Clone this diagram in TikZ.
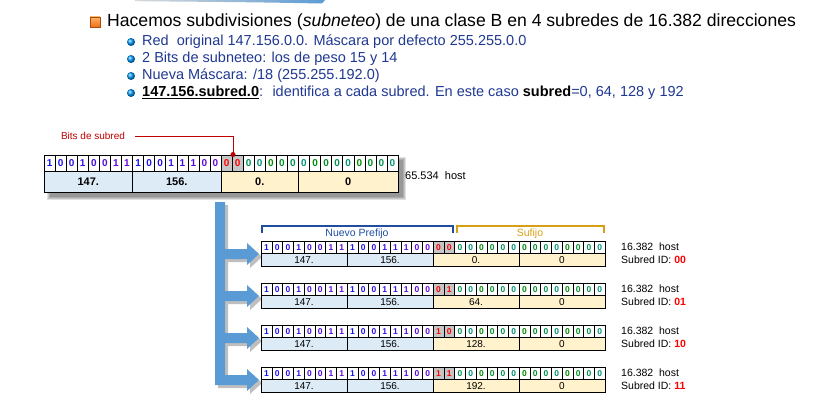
\documentclass[tikz,border=0pt]{standalone}
\usepackage{fontspec}
\setmainfont{Liberation Sans}
\definecolor{bitblue}{RGB}{20,20,240}
\definecolor{bitviolet}{RGB}{140,0,210}
\definecolor{bitgreen}{RGB}{0,140,0}
\definecolor{bitteal}{RGB}{0,150,160}
\definecolor{pfxfill}{RGB}{221,235,247}
\definecolor{sfxfill}{RGB}{255,242,204}
\definecolor{subgrey}{RGB}{198,198,198}
\definecolor{arrowblue}{RGB}{91,155,213}
\definecolor{txtblue}{RGB}{31,56,145}
\definecolor{brblue}{RGB}{31,78,160}
\definecolor{brgold}{RGB}{214,160,20}
\definecolor{redline}{RGB}{192,0,0}
\definecolor{bulletorange}{RGB}{240,110,20}
\newcommand\regbits[7]{%
  \foreach \b [count=\i from 0] in #6 {%
    \pgfmathsetmacro\xa{#2+\i*#4}%
    \pgfmathsetmacro\xb{#2+(\i+1)*#4}%
    \ifnum\i<16 \pgfmathtruncatemacro\m{mod(\i,8)*10}\def\tc{bitviolet!\m!bitblue}\def\cf{white}%
    \else\ifnum\i<18 \def\tc{red}\def\cf{subgrey}%
    \else \pgfmathtruncatemacro\m{mod(\i,4)*25}\def\tc{bitteal!\m!bitgreen}\def\cf{white}\fi\fi
    \draw[fill=\cf, line width=0.5pt] (\xa,#3) rectangle (\xb,{#3+#5});
    \node[font=#7, text=\tc, inner sep=0pt] (#1-\i) at ({(\xa+\xb)/2},{#3+#5/2}) {\b};
  }%
}
\newcommand\regbytes[7]{%
  \foreach \s/\e/\f/\l in {#7} {%
    \draw[fill=\f, line width=0.6pt] ({#2+\s*#4},#3) rectangle ({#2+\e*#4},{#3+#5});
    \node[font=#6, inner sep=0pt] (#1-\s) at ({#2+(\s+\e)/2*#4},{#3+#5/2}) {\l};
  }%
}
% #1 top, #2 middle (top+12.5), #3 bit list, #4 byte label, #5 id, #6 name
\newcommand\subreg[6]{%
  \regbits{s#6}{261}{#1}{10.75}{12.5}{#3}{\bfseries\fontsize{8.5}{9}\selectfont}
  \regbytes{sb#6}{261}{#2}{10.75}{12.5}{\fontsize{10}{11}\selectfont}{0/8/pfxfill/147.,8/16/pfxfill/156.,16/24/sfxfill/#4,24/32/sfxfill/0}
  \draw[line width=0.9pt] (261,#1) rectangle (605,{#1+25});
  \node[sidetxt] (hh#6) at (621,{#1+6}) {16.382~ host};
  \node[sidetxt] (id#6) at (621,{#1+18.5}) {Subred ID: {\color{red}\bfseries #5}};
}
\def\pfx{1,0,0,1,0,0,1,1,1,0,0,1,1,1,0,0}
\def\hst{0,0,0,0,0,0,0,0,0,0,0,0,0,0}
\edef\lstA{\pfx,0,0,\hst}
\edef\lstB{\pfx,0,1,\hst}
\edef\lstC{\pfx,1,0,\hst}
\edef\lstD{\pfx,1,1,\hst}
\begin{document}
\begin{tikzpicture}[x=1pt,y=-1pt,
  subtxt/.style={anchor=west, inner sep=0pt, text=txtblue, font=\fontsize{14.5}{17}\selectfont},
  sidetxt/.style={anchor=west, inner sep=0pt, font=\fontsize{10.5}{12}\selectfont},
  brtxt/.style={inner sep=0pt, font=\fontsize{10.5}{12}\selectfont}]
\useasboundingbox (0,0) rectangle (821,409);
% top swoosh
\shade[left color=gray!30, right color=arrowblue] (135,0) -- (325,0) -- (322,3.5) .. controls (250,2.2) .. (135,1.2) -- cycle;
% title and bullets
\shade[top color=orange!60, bottom color=bulletorange, draw=bulletorange!70!black, line width=0.3pt] (90,17) rectangle (100,27);
\node[anchor=west, inner sep=0pt, font=\fontsize{17.6}{20}\selectfont] (title) at (107,22)
  {Hacemos subdivisiones (\textit{subneteo}) de una clase B en 4 subredes de 16.382 direcciones};
\foreach \yy in {42,59,76,93} \shade[ball color=cyan!60!blue] (131,\yy) circle (4);
\node[subtxt] (l1) at (142,42) {Red~ original 147.156.0.0. Máscara por defecto 255.255.0.0};
\node[subtxt] (l2) at (142,59) {2 Bits de subneteo: los de peso 15 y 14};
\node[subtxt] (l3) at (142,76) {Nueva Máscara: /18 (255.255.192.0)};
\node[subtxt] (l4) at (142,93) {{\color{black}\bfseries\underline{147.156.subred.0}}:~ identifica a cada subred. En este caso {\color{black}\bfseries subred}=0, 64, 128 y 192};
% main register shadow
\foreach \k in {0,1,2,3} \fill[black, opacity=0.12] ({50-\k},{160-\k}) rectangle ({403+\k},{197+\k});
\regbits{m}{44}{155}{11.0625}{16}{\lstA}{\bfseries\fontsize{10}{11}\selectfont}
\regbytes{mb}{44}{171}{11.0625}{21}{\bfseries\fontsize{11}{12}\selectfont}{0/8/pfxfill/147.,8/16/pfxfill/156.,16/23/sfxfill/0.,23/32/sfxfill/0}
\draw[line width=0.9pt] (44,155) rectangle (398,192);
\node[anchor=west, inner sep=0pt, font=\fontsize{11}{13}\selectfont] (h1) at (405,176) {65.534~ host};
% bits de subred
\node[inner sep=0pt, text=redline, font=\fontsize{10}{12}\selectfont] (bitslbl) at (93,136) {Bits de subred};
\coordinate (rl) at (233,154.5);
\draw[redline, line width=0.8pt] ([xshift=10pt]bitslbl.east) -| (rl);
\fill[redline] (rl) circle (2.5);
% arrow
\foreach \dx/\op/\col in {3/0.25/black, 0/1/arrowblue} {
\begin{scope}[shift={(\dx,\dx)}]
\fill[\col, opacity=\op] (215,202) -- (225,202) -- (225,249) -- (247,249) -- (247,243) -- (259,254) -- (247,265) -- (247,259) -- (225,259)
 -- (225,291) -- (247,291) -- (247,285) -- (259,296) -- (247,307) -- (247,301) -- (225,301)
 -- (225,333) -- (247,333) -- (247,327) -- (259,338) -- (247,349) -- (247,343) -- (225,343)
 -- (225,375) -- (247,375) -- (247,369) -- (259,380) -- (247,391) -- (247,385) -- (215,385) -- cycle;
\end{scope}}
% brackets
\draw[brblue, line width=1.2pt] (262,233) -- (262,226) -- (453,226) -- (453,233);
\draw[brgold, line width=1.2pt] (457,233) -- (457,226) -- (604,226) -- (604,233);
\node[brtxt, text=brblue] (np) at (357,234) {Nuevo Prefijo};
\node[brtxt, text=brgold] (sf) at (530,234) {Sufijo};
% sub registers
\subreg{241}{253.5}{\lstA}{0.}{00}{a}
\subreg{283}{295.5}{\lstB}{64.}{01}{b}
\subreg{325}{337.5}{\lstC}{128.}{10}{c}
\subreg{367}{379.5}{\lstD}{192.}{11}{d}
\end{tikzpicture}
\end{document}
